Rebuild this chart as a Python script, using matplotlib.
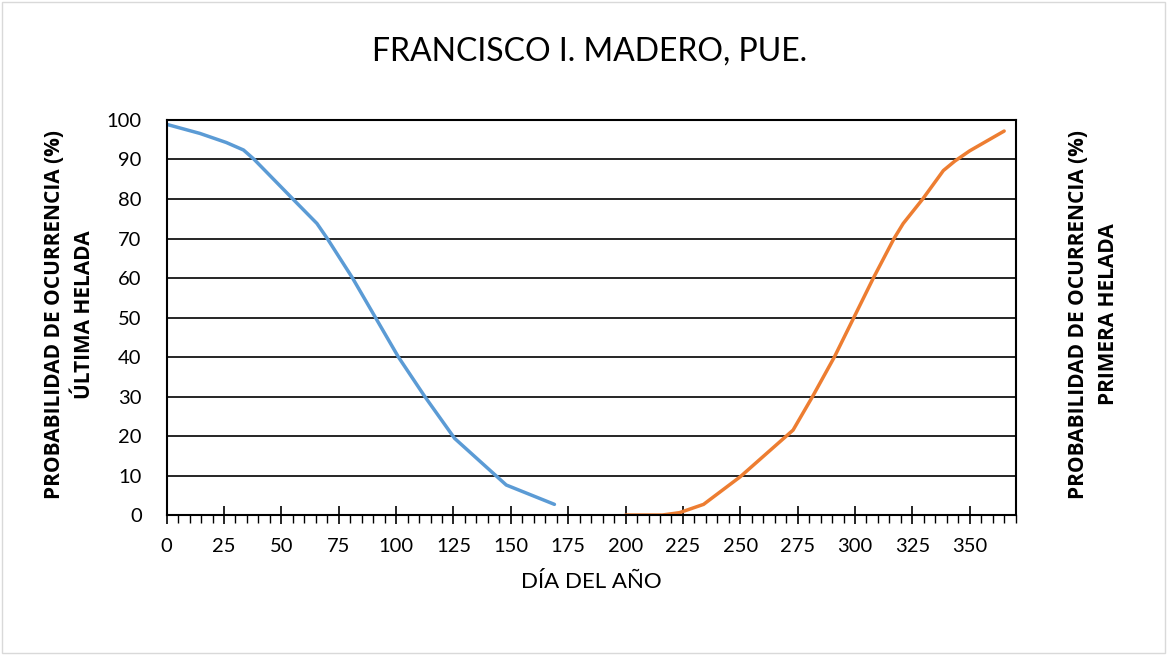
import matplotlib.pyplot as plt
from matplotlib.patches import Rectangle
from matplotlib.ticker import MultipleLocator

plt.rcParams['font.family'] = ['Lato', 'DejaVu Sans']

# ultima helada (day of year, probability %)
dias_ultima = [0, 14.5, 26, 33.5, 38, 55, 65.5, 70, 81, 91, 101, 112.5, 125.5, 144, 148, 169]
prob_ultima = [98.9, 96.6, 94.3, 92.4, 90.1, 80, 73.8, 70, 60, 50, 40, 30, 19.4, 9.7, 7.6, 2.7]

# primera helada
dias_primera = [200, 216, 223.5, 234, 250, 273, 281.5, 291, 299.5, 308, 317, 321, 329.5, 338.5, 343.5, 350, 365]
prob_primera = [0, 0, 0.6, 2.7, 9.7, 21.5, 30, 40, 50, 60, 70, 73.8, 80, 87.2, 89.6, 92.2, 97.2]

fig = plt.figure(figsize=(11.67, 6.55), dpi=100)
fig.patches.append(Rectangle((0.002, 0.003), 0.996, 0.994, transform=fig.transFigure,
                             fill=False, edgecolor='#d9d9d9', linewidth=1))

ax = fig.add_axes([0.1428, 0.2137, 0.7275, 0.6031])
ax.plot(dias_ultima, prob_ultima, color='#5B9BD5', linewidth=2.5, solid_capstyle='round')
ax.plot(dias_primera, prob_primera, color='#ED7D31', linewidth=2.5, solid_capstyle='round')

ax.set_xlim(0, 370)
ax.set_ylim(0, 100)
ax.xaxis.set_major_locator(MultipleLocator(25))
ax.xaxis.set_minor_locator(MultipleLocator(5))
ax.yaxis.set_major_locator(MultipleLocator(10))
ax.set_xticks(range(0, 351, 25))
ax.tick_params(axis='x', which='major', direction='inout', length=13, width=1.2, pad=10, labelsize=14.5)
ax.tick_params(axis='x', which='minor', direction='out', length=6, width=1)
ax.tick_params(axis='y', which='major', length=0, pad=18, labelsize=14.5)
ax.grid(axis='y', color='black', linewidth=1.2)
ax.set_axisbelow(True)
for s in ax.spines.values():
    s.set_linewidth(1.5)

ax.set_xlabel('DÍA DEL AÑO', fontsize=16, labelpad=12)

lab = dict(rotation=90, fontsize=15, family=['Open Sans', 'DejaVu Sans'],
           fontweight='bold', ha='center', va='center')
fig.text(0.505, 0.922, 'FRANCISCO I. MADERO, PUE.', fontsize=23, ha='center', va='center')
fig.text(0.047, 0.52, 'PROBABILIDAD DE OCURRENCIA (%)', **lab)
fig.text(0.072, 0.52, 'ÚLTIMA HELADA', **lab)
fig.text(0.924, 0.52, 'PROBABILIDAD DE OCURRENCIA (%)', **lab)
fig.text(0.950, 0.52, 'PRIMERA HELADA', **lab)

plt.savefig('out.png', dpi=100)
